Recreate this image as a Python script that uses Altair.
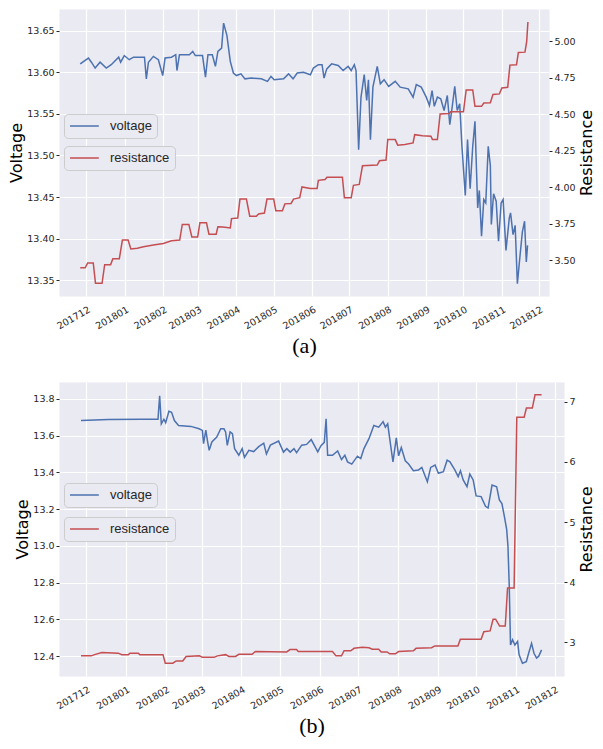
import altair as alt
import pandas as pd

BASE = pd.Timestamp("2017-12-01")

# ---------------- panel (a) ----------------
A_V_DAYS = [-5, 1.6, 4, 7, 11, 16, 20, 26, 27.6, 30.5, 34.5, 38, 45, 46.8, 48.3, 50, 54, 58, 61.5, 63.4,
            68.6, 72, 73, 75, 83, 85.7, 87.8, 93.6, 96, 98, 101.5, 104, 106, 109, 110.6, 113.3, 116, 118.5,
            121, 124.6, 127.8, 133, 141, 146, 148.8, 151.4, 159, 163, 166.6, 170, 175, 180.6, 183, 187,
            190, 191.6, 193.8, 197.7, 203, 207, 211, 213.5, 216, 217.4, 219.5, 221.4, 224, 226, 227.4,
            229, 231, 234.5, 237, 240, 243.7, 249, 253, 259.5, 263.4, 266, 270, 274, 276.6, 278.7, 280.5,
            283, 285.7, 288.4, 291, 293, 295, 297, 299, 301, 302.8, 305.5, 307.3, 309.4, 311.5, 313.3,
            315.5, 316.8, 318.6, 320.4, 322, 324, 325.7, 326.5, 328.3, 330.4, 332.3, 334.4, 336, 338.3,
            341, 342, 344, 345.7, 347.5, 349.4, 351.5, 353.3, 354.7, 355.7]
A_V_VALS = [13.610, 13.617, 13.612, 13.605, 13.612, 13.605, 13.609, 13.618, 13.612, 13.620, 13.615,
            13.618, 13.618, 13.618, 13.592, 13.612, 13.619, 13.615, 13.596, 13.617, 13.618, 13.621,
            13.602, 13.621, 13.621, 13.625, 13.620, 13.620, 13.594, 13.621, 13.621, 13.607, 13.625,
            13.629, 13.659, 13.644, 13.613, 13.599, 13.596, 13.598, 13.592, 13.593, 13.592, 13.589,
            13.595, 13.591, 13.592, 13.598, 13.592, 13.599, 13.600, 13.597, 13.605, 13.609, 13.609,
            13.593, 13.604, 13.610, 13.608, 13.602, 13.607, 13.602, 13.609, 13.602, 13.507, 13.570,
            13.597, 13.566, 13.591, 13.519, 13.582, 13.607, 13.586, 13.591, 13.583, 13.589, 13.582,
            13.580, 13.570, 13.585, 13.582, 13.570, 13.560, 13.578, 13.559, 13.570, 13.568, 13.554,
            13.572, 13.537, 13.559, 13.583, 13.554, 13.562, 13.511, 13.452, 13.519, 13.460, 13.511,
            13.541, 13.437, 13.458, 13.403, 13.447, 13.443, 13.511, 13.488, 13.417, 13.454, 13.445,
            13.397, 13.443, 13.447, 13.386, 13.425, 13.431, 13.405, 13.416, 13.346, 13.376, 13.408,
            13.421, 13.372, 13.392]

A_R_DAYS = [-5, -1, 1, 5.5, 7.3, 12.6, 14.7, 19.5, 21.3, 26.5, 29, 33.6, 35.8, 41, 46, 54, 62, 68.6,
            75.2, 77.3, 82.6, 85, 89.7, 91.5, 96.8, 98.8, 104.6, 106, 110, 116, 117, 122, 123.8, 129,
            131.7, 137, 138.8, 143.5, 145.6, 151, 152.7, 158, 160, 165, 167, 172, 173.8, 180.6, 186,
            187, 192.4, 194, 206.4, 208, 213.5, 215.3, 220, 222.6, 234.5, 236.3, 241.6, 243, 249, 251,
            256.8, 263.4, 264.7, 271, 277.8, 279, 283, 285.2, 292.3, 293.6, 304, 306.2, 311.5, 313.3,
            318.6, 320.4, 325.7, 327.8, 333, 335, 339.7, 341.5, 346.8, 348.3, 353.6, 355, 356]
A_R_VALS = [3.449, 3.449, 3.482, 3.482, 3.343, 3.343, 3.471, 3.471, 3.511, 3.511, 3.639, 3.639, 3.578,
            3.583, 3.594, 3.605, 3.616, 3.634, 3.639, 3.746, 3.746, 3.661, 3.661, 3.757, 3.757, 3.679,
            3.679, 3.730, 3.728, 3.722, 3.786, 3.790, 3.920, 3.920, 3.802, 3.802, 3.818, 3.824, 3.920,
            3.920, 3.840, 3.840, 3.887, 3.890, 3.920, 3.929, 4.003, 3.992, 3.992, 4.048, 4.054, 4.070,
            4.070, 3.929, 3.929, 4.014, 4.020, 4.148, 4.153, 4.182, 4.187, 4.327, 4.327, 4.289, 4.293,
            4.304, 4.361, 4.354, 4.350, 4.327, 4.327, 4.502, 4.506, 4.517, 4.517, 4.667, 4.667, 4.555,
            4.555, 4.577, 4.580, 4.636, 4.640, 4.680, 4.685, 4.837, 4.840, 4.924, 4.926, 4.998, 5.132]

# ---------------- panel (b) ----------------
B_V_DAYS = [-4, 17.4, 43, 56, 57.3, 58.6, 60.6, 62, 64.5, 66.6, 68.8, 72, 81.7, 88, 90.6, 91.5, 93.3,
            94.6, 95.9, 98, 101.8, 104.9, 107.4, 108.7, 110, 112.2, 114, 115.7, 119, 121.6, 123.4, 126.8,
            130.6, 134.5, 138.4, 140.5, 143.6, 150, 153.8, 156.4, 159, 162, 164, 168, 171.8, 175.4, 180.5,
            183, 185.6, 187, 188.2, 192, 196, 199, 201.6, 203.7, 207, 211.4, 214, 216.5, 220.4, 224.2,
            228, 231.4, 233.2, 235, 237.1, 239.1, 241.7, 243.5, 245.6, 248.7, 251.3, 255, 259, 261.6,
            265.9, 268.5, 271.9, 274.5, 278.4, 281.3, 283.5, 287.3, 289.9, 291.7, 293.8, 296.8, 299,
            301.6, 303.9, 307.8, 311.2, 313.2, 316.3, 319.9, 322, 324, 325.9, 327.7, 328.7, 329.7, 330.7,
            332.3, 334.1, 336.2, 337.4, 340, 343, 345, 347.1, 349, 351, 352.7, 354.9]
B_V_VALS = [13.682, 13.687, 13.689, 13.689, 13.816, 13.664, 13.689, 13.670, 13.732, 13.727, 13.682,
            13.655, 13.650, 13.637, 13.628, 13.556, 13.630, 13.570, 13.520, 13.565, 13.592, 13.637,
            13.637, 13.620, 13.547, 13.620, 13.610, 13.529, 13.493, 13.529, 13.481, 13.520, 13.513,
            13.540, 13.559, 13.500, 13.548, 13.570, 13.510, 13.529, 13.510, 13.529, 13.507, 13.548,
            13.552, 13.578, 13.511, 13.545, 13.563, 13.691, 13.493, 13.493, 13.516, 13.470, 13.493,
            13.457, 13.445, 13.488, 13.475, 13.529, 13.583, 13.655, 13.646, 13.676, 13.646, 13.664,
            13.556, 13.457, 13.588, 13.490, 13.535, 13.463, 13.445, 13.409, 13.413, 13.427, 13.349,
            13.427, 13.440, 13.395, 13.404, 13.466, 13.457, 13.413, 13.377, 13.409, 13.359, 13.322,
            13.391, 13.359, 13.272, 13.268, 13.215, 13.206, 13.331, 13.322, 13.250, 13.230, 13.161,
            13.090, 12.999, 12.784, 12.461, 12.490, 12.461, 12.480, 12.407, 12.362, 12.370, 12.420,
            12.470, 12.416, 12.390, 12.400, 12.434]

B_R_DAYS = [-4, 4, 7.2, 12.3, 25, 27.8, 32.9, 34.2, 40.6, 41.9, 59.9, 61.7, 67.6, 70.2, 75.3, 77.9,
            88.2, 90.7, 99.7, 102.3, 108.7, 111.3, 116.4, 119, 129.3, 131.9, 156.3, 158.9, 164, 165.3,
            192, 194.7, 199, 201, 206.2, 208.8, 215.2, 220.4, 223, 228, 229.9, 234.5, 236.6, 241, 243.5,
            255, 257.1, 269.2, 271.7, 289.7, 291.6, 307.8, 309.9, 314.8, 317.1, 319.1, 322.2, 326.6,
            328.4, 333.5, 335.6, 341.3, 343.1, 347.7, 349.8, 354.9]
B_R_VALS = [2.775, 2.775, 2.800, 2.830, 2.820, 2.795, 2.795, 2.820, 2.820, 2.795, 2.795, 2.654, 2.654,
            2.690, 2.690, 2.765, 2.775, 2.750, 2.750, 2.775, 2.795, 2.765, 2.765, 2.800, 2.800, 2.847,
            2.840, 2.880, 2.880, 2.847, 2.847, 2.775, 2.775, 2.860, 2.860, 2.900, 2.920, 2.910, 2.885,
            2.885, 2.840, 2.840, 2.810, 2.810, 2.847, 2.860, 2.900, 2.910, 2.940, 2.940, 3.050, 3.050,
            3.176, 3.190, 3.384, 3.384, 3.270, 3.270, 3.905, 3.905, 6.742, 6.742, 6.896, 6.896, 7.115,
            7.115]

MONTH_TICKS = [(2017, 12)] + [(2018, m) for m in range(1, 13)]

A_V_TICKS = [13.35, 13.40, 13.45, 13.50, 13.55, 13.60, 13.65]
A_R_TICKS = [3.25, 3.50, 3.75, 4.00, 4.25, 4.50, 4.75, 5.00]
B_V_TICKS = [12.4, 12.6, 12.8, 13.0, 13.2, 13.4, 13.6, 13.8]
B_R_TICKS = [3, 4, 5, 6, 7]

BLUE = "#4C72B0"
RED = "#C44E52"
TXT = "#262626"


def frame(days, vals, name):
    return pd.DataFrame({
        "date": BASE + pd.to_timedelta(days, unit="D"),
        "value": vals,
        "series": name,
    })


def dt(days):
    ts = BASE + pd.Timedelta(days=days)
    return alt.DateTime(year=ts.year, month=ts.month, date=ts.day, hours=ts.hour)


def panel(vdf, rdf, v_dom, r_dom, v_ticks, r_ticks, v_fmt, r_fmt, x_days, width, height,
          caption, leg_v, leg_r):
    x_enc = alt.X(
        "date:T",
        scale=alt.Scale(domain=[dt(x_days[0]), dt(x_days[1])], nice=False),
        axis=alt.Axis(
            values=[alt.DateTime(year=y, month=m, date=1) for y, m in MONTH_TICKS],
            labelExpr="timeFormat(datum.value, '%Y%m')",
            labelAngle=-30, labelAlign="right", labelBaseline="top",
            labelOverlap=False, labelBound=False, labelFlush=False,
            labelPadding=8, ticks=False, domain=False,
            grid=True, gridColor="white", gridWidth=1.2,
            labelFontSize=9.5, labelColor=TXT,
            title=caption, titleFont="Liberation Serif", titleFontSize=22,
            titleFontWeight="normal", titleColor="black", titlePadding=5,
        ),
    )
    leg_common = dict(orient="none", title=None, fillColor="#EAEAF2", strokeColor="#CCCCCC",
                      cornerRadius=4, padding=5, symbolType="M-1,0H3.8", symbolSize=144,
                      symbolStrokeWidth=1.5, labelFontSize=13, labelColor=TXT, labelOffset=27,
                      legendX=5)
    v_line = alt.Chart(vdf).mark_line(strokeWidth=1.5).encode(
        x=x_enc,
        y=alt.Y("value:Q",
                scale=alt.Scale(domain=v_dom, nice=False, zero=False),
                axis=alt.Axis(orient="left", values=v_ticks, format=v_fmt, title="Voltage",
                              grid=True, gridColor="white", gridWidth=1.2, domain=False,
                              tickSize=3, tickColor=TXT, labelPadding=2, labelFontSize=9.5,
                              labelColor=TXT, titleFontSize=16, titleFontWeight="normal",
                              titleColor="black", titlePadding=2)),
        color=alt.Color("series:N", scale=alt.Scale(domain=["voltage"], range=[BLUE]),
                        legend=alt.Legend(legendY=leg_v, **leg_common)),
    )
    r_line = alt.Chart(rdf).mark_line(strokeWidth=1.5).encode(
        x=x_enc,
        y=alt.Y("value:Q",
                scale=alt.Scale(domain=r_dom, nice=False, zero=False),
                axis=alt.Axis(orient="right", values=r_ticks, format=r_fmt, title="Resistance",
                              grid=False, domain=False, tickSize=3, tickColor=TXT,
                              labelPadding=2, labelFontSize=9.5, labelColor=TXT,
                              titleFontSize=16, titleFontWeight="normal", titleColor="black",
                              titleAngle=270, titleBaseline="top", titlePadding=3)),
        color=alt.Color("series:N", scale=alt.Scale(domain=["resistance"], range=[RED]),
                        legend=alt.Legend(legendY=leg_r, **leg_common)),
    )
    return alt.layer(v_line, r_line).resolve_scale(y="independent", color="independent").properties(
        width=width, height=height)


pa = panel(frame(A_V_DAYS, A_V_VALS, "voltage"), frame(A_R_DAYS, A_R_VALS, "resistance"),
           [13.3312, 13.6759], [3.2562, 5.2213], A_V_TICKS, A_R_TICKS, ".2f", ".2f",
           (-22.1, 373.0), 490, 287, "(a)", 105, 137)
pb = panel(frame(B_V_DAYS, B_V_VALS, "voltage"), frame(B_R_DAYS, B_R_VALS, "resistance"),
           [12.2922, 13.8915], [2.440, 7.329], B_V_TICKS, B_R_TICKS, ".1f", "d",
           (-21.1, 372.4), 505, 294, "(b)", 101, 135)

chart = alt.vconcat(pa, pb, spacing=24, padding=0, background="white").configure_view(
    fill="#EAEAF2", stroke="transparent"
).configure_axis(
    labelFont="DejaVu Sans", titleFont="DejaVu Sans"
)

chart.save("out.html", embed_options={"renderer": "svg", "actions": False})
